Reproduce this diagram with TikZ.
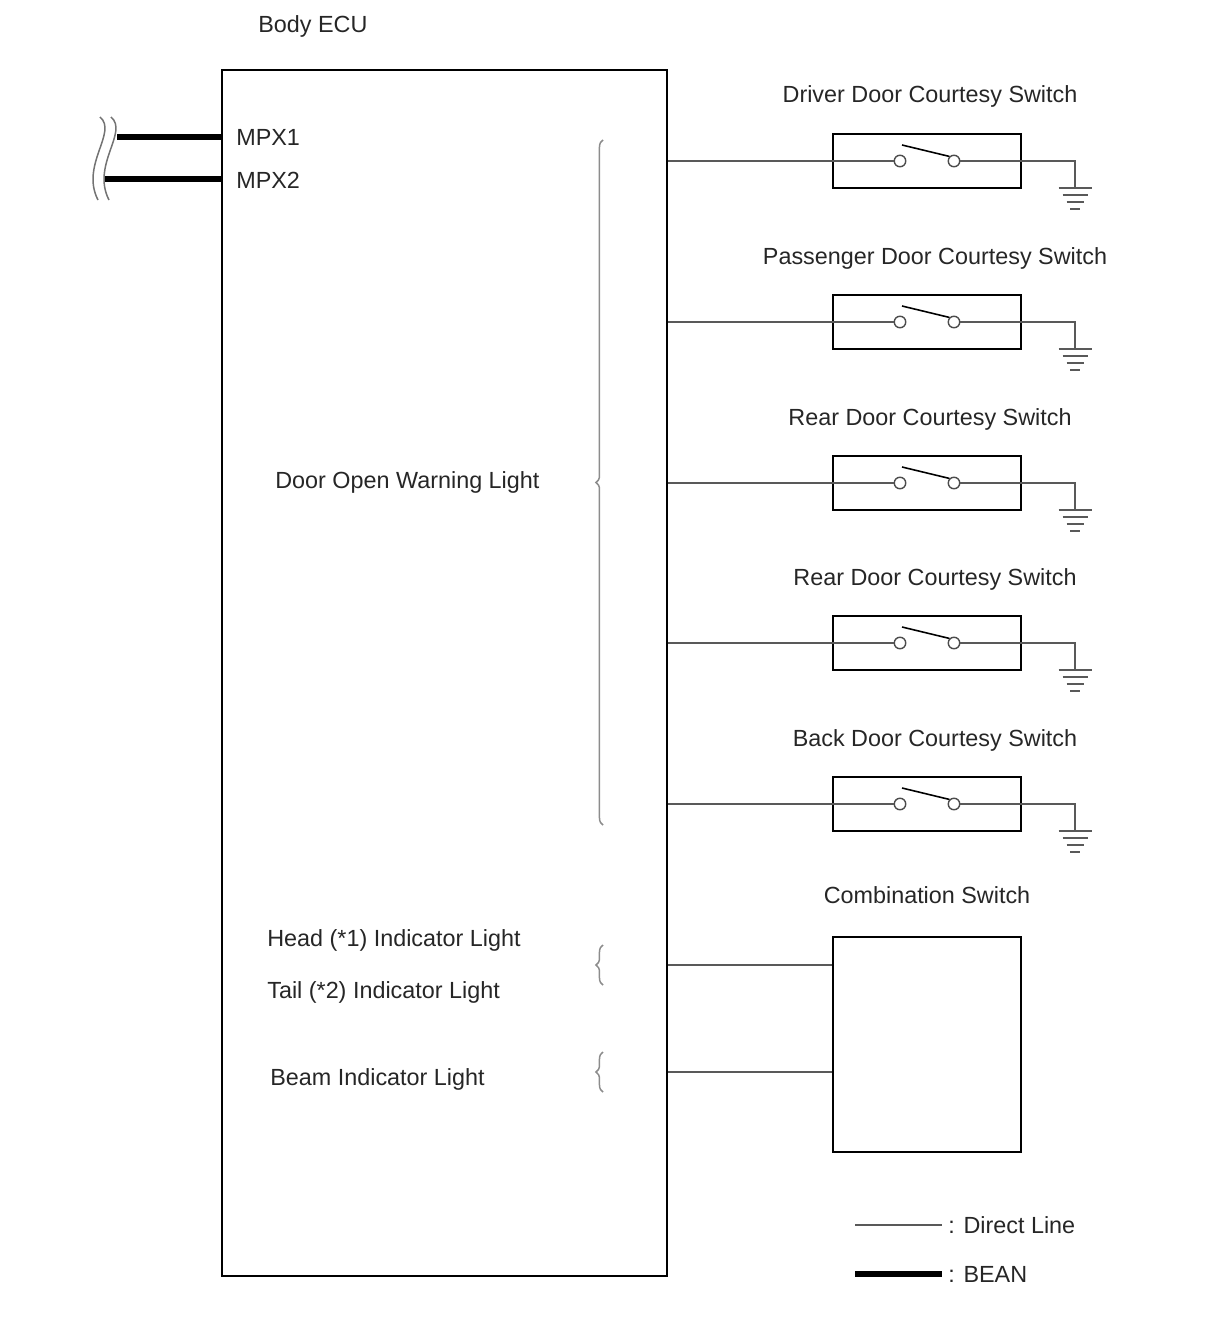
\documentclass[tikz,border=0pt]{standalone}
\usepackage{fontspec}
\setmainfont{Liberation Sans}
\usetikzlibrary{calc,decorations.pathreplacing}

\tikzset{
  lbl/.style={inner sep=0pt, font=\fontsize{13.3}{16}\selectfont, text=black!85},
  wire/.style={draw=black!65, line width=0.75pt},
  bean/.style={line width=3.4pt},
  swbox/.style={draw, line width=1.3pt, minimum width=3.76cm, minimum height=1.08cm, inner sep=0pt},
  contact/.style={draw=black!70, line width=0.8pt, circle, minimum size=0.23cm, inner sep=0pt},
  grp/.style={draw=black!45, line width=0.85pt, decorate, decoration={brace, amplitude=4pt}},
}

\begin{document}
\begin{tikzpicture}[x=0.02cm, y=-0.02cm]
  \useasboundingbox (0,0) rectangle (1210,1328);
  % Body ECU
  \node[draw, line width=1.1pt, minimum width=8.9cm, minimum height=24.12cm, inner sep=0pt] (ecu) at (444.5,673) {};
  \node[lbl, anchor=base west] (ecuname) at (258,33) {Body ECU};

  % BEAN lines
  \coordinate (brk1) at (117,137);
  \coordinate (brk2) at (105,179);
  \draw[bean] (brk1) -- (ecu.west |- brk1);
  \draw[bean] (brk2) -- (ecu.west |- brk2);
  \node[lbl, anchor=base west] (mpx1) at (236,145) {MPX1};
  \node[lbl, anchor=base west] (mpx2) at (236,188) {MPX2};
  \foreach \x in {100,111}
    \draw[black!55, line width=0.85pt] (\x,117) .. controls (\x+18,132) and (\x-20,165) .. (\x-2,200);

  % courtesy switches
  \foreach \y/\lx/\txt [count=\i] in {161/930/Driver Door Courtesy Switch, 322/935/Passenger Door Courtesy Switch, 483/930/Rear Door Courtesy Switch, 643/935/Rear Door Courtesy Switch, 804/935/Back Door Courtesy Switch}
  {
    \node[swbox] (sw\i) at (927,\y) {};
    \node[lbl, anchor=base] (swname\i) at (\lx,\y-58) {\txt};
    \node[contact] (ca\i) at (900,\y) {};
    \node[contact] (cb\i) at (954,\y) {};
    \coordinate (gnd\i) at (1075,\y+27);
    \draw[wire] (ecu.east |- sw\i) -- (ca\i);
    \draw[wire] (cb\i) -| (gnd\i);
    \draw[line width=0.9pt] ($(ca\i)+(2,-16)$) -- (cb\i.north west);
    \foreach \w [count=\k] in {16.5,12.5,8.5,5}
      \draw[wire, line width=1pt] ($(gnd\i)+(-\w,7*\k-7)$) -- ++(2*\w,0);
  }

  % warning light group
  \coordinate (dtop) at (603,140);
  \coordinate (dbot) at (603,825);
  \draw[grp] (dbot) -- (dtop);
  \node[lbl, anchor=base west] (door) at (275,488) {Door Open Warning Light};

  % combination switch
  \node[swbox, line width=1.1pt, minimum height=4.3cm] (comb) at (927,1044.5) {};
  \node[lbl, anchor=base] (combname) at (927,903) {Combination Switch};
  \coordinate (hl) at (0,965);
  \coordinate (bl) at (0,1072);
  \draw[wire] (ecu.east |- hl) -- (comb.west |- hl);
  \draw[wire] (ecu.east |- bl) -- (comb.west |- bl);
  \draw[grp] (603,985) -- (603,945);
  \draw[grp] (603,1092) -- (603,1052);
  \node[lbl, anchor=base west] (head) at (267,946) {Head (*1) Indicator Light};
  \node[lbl, anchor=base west] (tail) at (267,998) {Tail (*2) Indicator Light};
  \node[lbl, anchor=base west] (beam) at (270,1085) {Beam Indicator Light};

  % legend
  \coordinate (lga) at (855,1225);
  \coordinate (lgb) at (942,1225);
  \coordinate (lgc) at (855,1274);
  \coordinate (lgd) at (942,1274);
  \draw[wire] (lga) -- (lgb);
  \draw[bean] (lgc) -- (lgd);
  \node[lbl, anchor=base west] (lgdirect) at (948,1233) {: Direct Line};
  \node[lbl, anchor=base west] (lgbean) at (948,1282) {: BEAN};
\end{tikzpicture}
\end{document}
